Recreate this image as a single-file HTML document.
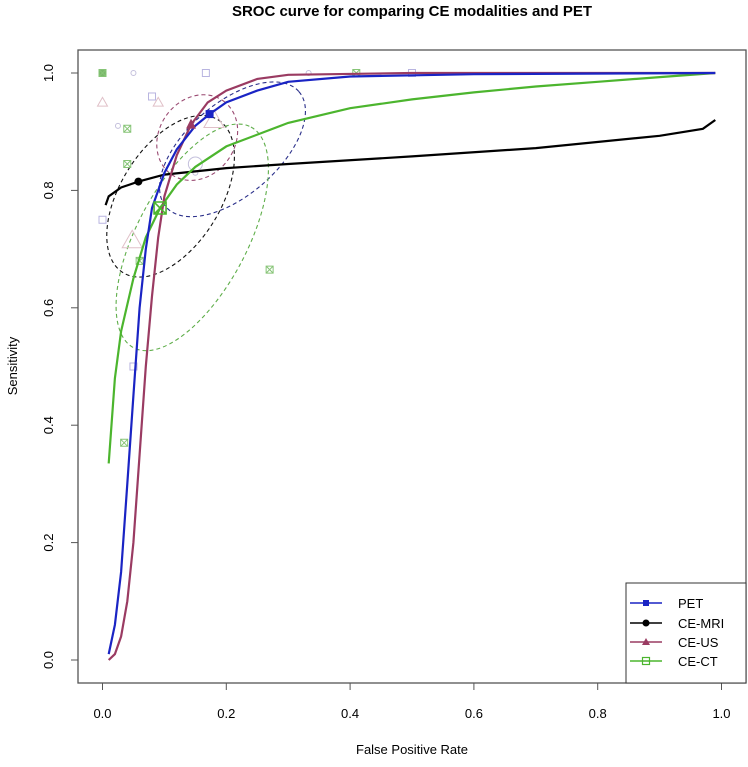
<!DOCTYPE html>
<html><head><meta charset="utf-8"><style>
body{margin:0;background:#fff;}
svg text{font-family:"Liberation Sans",Arial,sans-serif;}
</style></head><body>
<svg id="chart" width="748" height="762" xmlns="http://www.w3.org/2000/svg">
<text x="412" y="16" text-anchor="middle" font-size="15" font-weight="bold">SROC curve for comparing CE modalities and PET</text>
<rect x="78" y="50" width="668" height="633" fill="none" stroke="#555" stroke-width="1.3"/>
<g id="axes"></g>
<g id="ellipses"></g>
<g id="studies"></g>
<g id="curves"></g>
<g id="summaries"></g>
<text x="412" y="754" text-anchor="middle" font-size="13">False Positive Rate</text>
<text transform="translate(17,366) rotate(-90)" text-anchor="middle" font-size="13">Sensitivity</text>
<g>
<rect x="626" y="583" width="120" height="100" fill="#fff" stroke="#333" stroke-width="1"/>
<g><line x1="630" y1="603" x2="662" y2="603" stroke="#1a24c4" stroke-width="1.5"/><rect x="643" y="600" width="6" height="6" fill="#1a24c4"/><text x="678" y="608" font-size="13">PET</text></g>
<g><line x1="630" y1="623" x2="662" y2="623" stroke="#000" stroke-width="1.5"/><circle cx="646" cy="623" r="3.5" fill="#000"/><text x="678" y="628" font-size="13">CE-MRI</text></g>
<g><line x1="630" y1="642" x2="662" y2="642" stroke="#9a3b62" stroke-width="1.5"/><polygon points="646,638 650,645 642,645" fill="#9a3b62"/><text x="678" y="647" font-size="13">CE-US</text></g>
<g><line x1="630" y1="661" x2="662" y2="661" stroke="#4cb52e" stroke-width="1.5"/><rect x="642.5" y="657.5" width="7" height="7" fill="none" stroke="#4cb52e" stroke-width="1.2"/><text x="678" y="666" font-size="13">CE-CT</text></g>
</g>
</svg>
<script>
const xTicks=[0,0.2,0.4,0.6,0.8,1.0];
const yTicks=[0,0.2,0.4,0.6,0.8,1.0];
const xTickLabels=["0.0","0.2","0.4","0.6","0.8","1.0"];
const yTickLabels=["0.0","0.2","0.4","0.6","0.8","1.0"];
const petFpr=[0.01,0.02,0.03,0.04,0.05,0.06,0.07,0.08,0.1,0.12,0.15,0.173,0.2,0.25,0.3,0.4,0.6,0.99];
const petSens=[0.01,0.06,0.15,0.3,0.45,0.6,0.7,0.77,0.83,0.87,0.91,0.93,0.95,0.97,0.985,0.994,0.998,1.0];
const usFpr=[0.01,0.02,0.03,0.04,0.05,0.06,0.07,0.08,0.09,0.1,0.12,0.143,0.17,0.2,0.25,0.3,0.5,0.99];
const usSens=[0.0,0.01,0.04,0.1,0.2,0.35,0.5,0.62,0.72,0.79,0.86,0.912,0.95,0.97,0.99,0.997,1.0,1.0];
const ctFpr=[0.01,0.02,0.03,0.05,0.07,0.093,0.12,0.15,0.2,0.3,0.4,0.5,0.6,0.7,0.8,0.9,0.99];
const ctSens=[0.335,0.48,0.56,0.65,0.72,0.77,0.81,0.84,0.875,0.915,0.94,0.955,0.967,0.977,0.985,0.993,1.0];
const mriFpr=[0.005,0.01,0.03,0.058,0.1,0.2,0.3,0.5,0.7,0.9,0.97,0.99];
const mriSens=[0.775,0.79,0.805,0.815,0.827,0.838,0.845,0.858,0.872,0.893,0.905,0.92];
const summaryFpr=[0.173,0.058,0.143,0.093];
const summarySens=[0.93,0.815,0.912,0.77];
const petStudyFpr=[0.05,0.167,0.333,0.5,0.08,0.05,0.15,0.0,0.025,0.15];
const petStudySens=[1.0,1.0,1.0,1.0,0.96,0.5,0.83,0.75,0.91,0.845];
const usStudyFpr=[0.0,0.048,0.09,0.18];
const usStudySens=[0.95,0.715,0.95,0.92];
const ctStudyFpr=[0.0,0.04,0.04,0.06,0.27,0.035,0.41];
const ctStudySens=[1.0,0.905,0.845,0.68,0.665,0.37,1.0];
// confidence ellipses: center (fpr,sens)
const ellFpr=[0.21,0.153,0.11,0.145];
const ellSens=[0.87,0.89,0.79,0.72];

const X=v=>102.5+619*v, Y=v=>660-587*v;
const NS="http://www.w3.org/2000/svg";
function mk(tag,parent,attrs){const e=document.createElementNS(NS,tag);for(const k in attrs)e.setAttribute(k,attrs[k]);document.getElementById(parent).appendChild(e);return e;}
xTicks.forEach((t,i)=>{
 const l=mk('line','axes',{x1:X(t),x2:X(t),y1:683,y2:690,stroke:'#555'});
 
 
 const tx=mk('text','axes',{x:X(t),y:718,'text-anchor':'middle','font-size':13});
 tx.textContent=xTickLabels[i];
 
 
});
yTicks.forEach((t,i)=>{
 const l=mk('line','axes',{x1:71,x2:78,y1:Y(t),y2:Y(t),stroke:'#555'});
 
 
 const tx=mk('text','axes',{transform:`translate(53,${Y(t)}) rotate(-90)`,'text-anchor':'middle','font-size':13});
 tx.textContent=yTickLabels[i];
 
 
});
const ellColors=['#2a2f8a','#9a4a72','#111','#5fae4a'];
const ellR=[[88,46,-41],[45,38,-55],[90,50,-58],[125,55,-62]];
const ellNames=['pet-ellipse','ce-us-ellipse','ce-mri-ellipse','ce-ct-ellipse'];
ellFpr.forEach((f,i)=>{
 const cx=X(f),cy=Y(ellSens[i]);
 const e=mk('ellipse','ellipses',{cx:cx,cy:cy,rx:ellR[i][0],ry:ellR[i][1],transform:`rotate(${ellR[i][2]} ${cx} ${cy})`,fill:'none',stroke:ellColors[i],'stroke-width':1.1,'stroke-dasharray':'4,3'});
 
 
});
petStudyFpr.forEach((f,i)=>{
 const big=i===9;const sq=i%2===1||i===4;
 let e;
 if(sq&&!big) e=mk('rect','studies',{x:X(f)-3.5,y:Y(petStudySens[i])-3.5,width:7,height:7,fill:'none',stroke:'#b8b4e0'});
 else e=mk('circle','studies',{cx:X(f),cy:Y(petStudySens[i]),r:big?7:2.5,fill:'none',stroke:'#c4c0dc'});
 
 
});
usStudyFpr.forEach((f,i)=>{
 const s=(i===1||i===3)?10:5;const x=X(f),y=Y(usStudySens[i]);
 const e=mk('polygon','studies',{points:`${x},${y-s} ${x+s},${y+s*0.75} ${x-s},${y+s*0.75}`,fill:'none',stroke:'#e0c0c8'});
 
 
});
ctStudyFpr.forEach((f,i)=>{
 const x=X(f),y=Y(ctStudySens[i]);const s=3.5;
 const e=mk('path','studies',{d:`M${x-s},${y-s}h${2*s}v${2*s}h${-2*s}z M${x-s},${y-s}L${x+s},${y+s} M${x+s},${y-s}L${x-s},${y+s}`,fill:i===0?'#7ab86a':'none',stroke:'#86c476'});
 
 
});
function curve(fx,sy,color,name){
 const d=fx.map((f,i)=>(i?'L':'M')+X(f).toFixed(1)+','+Y(sy[i]).toFixed(1)).join('');
 const p=mk('path','curves',{d:d,fill:'none',stroke:color,'stroke-width':2.2});
 
 
}
curve(mriFpr,mriSens,'#000','ce-mri-curve');
curve(ctFpr,ctSens,'#4cb52e','ce-ct-curve');
curve(usFpr,usSens,'#9a3b62','ce-us-curve');
curve(petFpr,petSens,'#1a24c4','pet-curve');
(function(){
 let x=X(summaryFpr[0]),y=Y(summarySens[0]);
 let e=mk('rect','summaries',{x:x-4,y:y-4,width:8,height:8,fill:'#1a24c4'});
 
 
 x=X(summaryFpr[1]);y=Y(summarySens[1]);
 e=mk('circle','summaries',{cx:x,cy:y,r:4,fill:'#000'});
 
 
 x=X(summaryFpr[2]);y=Y(summarySens[2]);
 e=mk('polygon','summaries',{points:`${x},${y-6} ${x+5},${y+4} ${x-5},${y+4}`,fill:'#9a3b62'});
 
 
 x=X(summaryFpr[3]);y=Y(summarySens[3]);const s=6;
 e=mk('path','summaries',{d:`M${x-s},${y-s}h${2*s}v${2*s}h${-2*s}z M${x-s},${y-s}L${x+s},${y+s} M${x+s},${y-s}L${x-s},${y+s}`,fill:'none',stroke:'#4cb52e','stroke-width':1.6});
 
 
})();
</script>
</body></html>
